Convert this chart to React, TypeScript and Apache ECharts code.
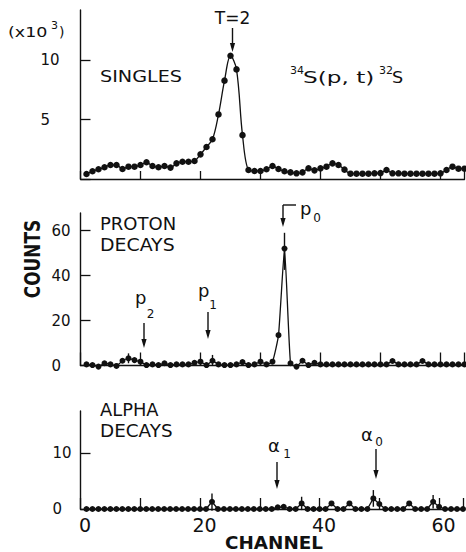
import React, { useEffect, useRef } from "react";
import * as echarts from "echarts";

// Channel numbers (x) shared by all three spectra
const channels: number[] = Array.from({ length: 64 }, (_, i) => i + 1);

// SINGLES counts (x10^3)
const singles: number[] = [
  0.42, 0.65, 0.82, 0.99, 1.18, 1.18, 0.84, 1.04, 1.04, 1.18,
  1.41, 1.10, 0.99, 1.10, 0.96, 1.32, 1.46, 1.46, 1.52, 2.08,
  2.70, 3.35, 5.45, 8.30, 10.40, 9.25, 3.70, 0.76, 0.68, 0.68,
  0.82, 1.10, 0.84, 0.65, 0.56, 0.48, 0.56, 0.90, 0.73, 0.90,
  1.04, 1.32, 1.18, 0.79, 0.45, 0.45, 0.45, 0.45, 0.48, 0.50,
  0.76, 0.48, 0.48, 0.45, 0.45, 0.45, 0.45, 0.45, 0.45, 0.48,
  0.76, 1.04, 0.87, 0.87,
];

// PROTON DECAYS counts
const proton: number[] = [
  0.5, 0.2, -0.5, 1.0, 0.5, -0.2, 2.1, 3.2, 2.4, 1.7,
  0.2, 0.5, 0.2, 1.0, 0.2, 0.5, 0.5, 0.5, 1.2, 1.7,
  0.2, 2.1, 0.5, 0.2, 0.2, 0.5, 1.5, 0.2, 0.5, 1.7,
  0.5, 1.7, 13.5, 52.0, 1.0, -0.5, 2.1, 0.2, 1.2, 0.5,
  0.5, 0.5, 0.5, 0.5, 0.5, 0.5, 0.5, 0.5, 0.5, 0.5,
  0.5, 2.0, 0.5, 0.5, 0.5, 0.5, 2.0, 0.5, 0.5, 0.5,
  0.5, 0.5, 0.5, 0.5,
];

// ALPHA DECAYS counts
const alpha: number[] = [
  0, 0, 0, 0, 0, 0, 0, 0, 0, 0,
  0, 0, 0, 0, 0, 0, 0, 0, 0, 0,
  0, 1.3, 0, 0, 0, 0, 0, 0, 0, 0,
  0, 0, 0.3, 0.4, 0, 0, 1.0, 0, 0, 0,
  0, 1.0, 0, 0, 1.0, 0, 0, 0, 1.9, 0.9,
  0, 0, 0, 0, 1.0, 0, 0, 0, 1.3, 0.4,
  0, 0, 0, 0,
];

// error bars: [channel, low, high]
const protonErrors: number[][] = [
  [8, 1.0, 5.4],
  [22, 0.0, 4.7],
  [34, 42.5, 59.0],
];
const alphaErrors: number[][] = [
  [22, -0.3, 2.8],
  [37, -0.2, 2.2],
  [49, 0.4, 3.4],
  [59, 0.1, 2.5],
];

// tick labels
const xTickLabels = [0, 20, 40, 60];
const singlesTicks = [5, 10];
const protonTicks = [0, 20, 40, 60];
const alphaTicks = [0, 10];

const INK = "#111";
const FONT = "DejaVu Sans";

function arrow(x: number, y1: number, y2: number) {
  return {
    type: "group",
    children: [
      { type: "line", shape: { x1: x, y1, x2: x, y2: y2 - 4 }, style: { stroke: INK, lineWidth: 1.4 } },
      {
        type: "polygon",
        shape: { points: [[x - 2.6, y2 - 9], [x + 2.6, y2 - 9], [x, y2]] },
        style: { fill: INK },
      },
    ],
  };
}

function txt(text: string, x: number, y: number, size: number, opts: any = {}) {
  return {
    type: "text",
    x,
    y,
    scaleX: opts.scaleX ?? 1,
    scaleY: opts.scaleY ?? 1,
    rotation: opts.rotation ?? 0,
    style: {
      text,
      x: 0,
      y: 0,
      fill: INK,
      font: `${opts.bold ? "bold " : ""}${size}px "${FONT}"`,
      textAlign: opts.align ?? "left",
      textVerticalAlign: "middle",
      verticalAlign: "middle",
    },
  };
}

function errSeries(xi: number, data: number[][]) {
  return {
    type: "custom",
    xAxisIndex: xi,
    yAxisIndex: xi,
    clip: false,
    silent: true,
    data,
    encode: { x: 0, y: [1, 2] },
    renderItem: (_p: any, api: any) => {
      const a = api.coord([api.value(0), api.value(1)]);
      const b = api.coord([api.value(0), api.value(2)]);
      return {
        type: "line",
        shape: { x1: a[0], y1: a[1], x2: b[0], y2: b[1] },
        style: { stroke: INK, lineWidth: 1.4 },
      };
    },
  };
}

export default function App() {
  const ref = useRef<HTMLDivElement>(null);

  useEffect(() => {
    document.body.style.margin = "0";
    const chart = echarts.init(ref.current!, null, { renderer: "svg" });

    const left = 80.5;
    const width = 384;
    const grids = [
      { left, top: 10, width, height: 169 },
      { left, top: 213, width, height: 152.5 },
      { left, top: 411, width, height: 98 },
    ];

    const xAxis = (gi: number, tickLen: number, showLabels: boolean) => ({
      type: "value",
      gridIndex: gi,
      min: 0,
      max: 64,
      interval: 10,
      axisLine: { show: true, onZero: false, lineStyle: { color: INK, width: 1.4 } },
      axisTick: { show: true, inside: true, length: tickLen, lineStyle: { color: INK, width: 1.3 } },
      axisLabel: {
        show: showLabels,
        color: INK,
        fontFamily: FONT,
        fontSize: 19,
        margin: 6,
        padding: [0, 0, 0, 9],
        formatter: (v: number) => (xTickLabels.includes(v) ? String(v) : ""),
      },
      splitLine: { show: false },
    });

    const yAxis = (gi: number, max: number, interval: number, labels: number[], margin: number, size: number) => ({
      type: "value",
      gridIndex: gi,
      min: 0,
      max,
      interval,
      axisLine: { show: true, lineStyle: { color: INK, width: 1.4 } },
      axisTick: { show: true, inside: true, length: 10, lineStyle: { color: INK, width: 1.3 } },
      axisLabel: {
        color: INK,
        fontFamily: FONT,
        fontSize: size,
        margin,
        align: "left",
        showMaxLabel: false,
        formatter: (v: number) => (labels.includes(v) ? String(v) : ""),
      },
      splitLine: { show: false },
    });

    const lineSeries = (gi: number, vals: number[], smooth: number | boolean, size: number) => ({
      type: "line",
      xAxisIndex: gi,
      yAxisIndex: gi,
      data: channels.map((c, i) => [c, vals[i]]),
      smooth,
      clip: false,
      symbol: "circle",
      symbolSize: size,
      showSymbol: true,
      itemStyle: { color: INK },
      lineStyle: { color: INK, width: 1.3 },
    });

    chart.setOption({
      animation: false,
      backgroundColor: "#fff",
      grid: grids,
      xAxis: [xAxis(0, 8, false), xAxis(1, 13, false), xAxis(2, 11, true)],
      yAxis: [
        yAxis(0, 14.26, 5, singlesTicks, 40, 15),
        yAxis(1, 67.8, 20, protonTicks, 29, 15),
        yAxis(2, 17.6, 10, alphaTicks, 28, 15),
      ],
      series: [
        lineSeries(0, singles, 0.35, 6.5),
        lineSeries(1, proton, 0.15, 6),
        lineSeries(2, alpha, false, 6),
        errSeries(1, protonErrors),
        errSeries(2, alphaErrors),
      ],
      graphic: [
        // panel 1
        txt("(x10", 8, 32, 14, { scaleX: 1.25 }),
        txt("3", 51, 25, 11),
        txt(")", 59, 32, 14),
        txt("T=2", 232.5, 18, 17, { align: "center" }),
        arrow(232.5, 28, 52),
        txt("SINGLES", 100, 76.5, 16, { scaleX: 1.2 }),
        txt("34", 290, 70.5, 11),
        txt("S(p, t)", 303, 77.5, 16, { scaleX: 1.45 }),
        txt("32", 379, 70.5, 11),
        txt("S", 392, 77.5, 16, { scaleX: 1.1 }),
        // panel 2
        txt("COUNTS", 33, 259, 22, { bold: true, rotation: Math.PI / 2, align: "center", scaleX: 0.77 }),
        txt("PROTON", 100, 223, 18),
        txt("DECAYS", 100, 244.5, 18, { scaleX: 1.05 }),
        { type: "line", shape: { x1: 283, y1: 205, x2: 296, y2: 205 }, style: { stroke: INK, lineWidth: 1.4 } },
        arrow(283, 205, 227),
        txt("p", 300, 208, 18),
        txt("0", 317, 218, 12, { align: "center" }),
        txt("p", 135, 297, 18),
        txt("2", 150.5, 314, 12, { align: "center" }),
        arrow(144, 323, 348),
        txt("p", 198, 290, 18),
        txt("1", 213, 305, 12, { align: "center" }),
        arrow(208, 312, 339),
        // panel 3
        txt("ALPHA", 100, 410.5, 17, { scaleX: 1.05 }),
        txt("DECAYS", 100, 431.5, 17, { scaleX: 1.08 }),
        txt("α", 268, 445, 18),
        txt("1", 287, 454, 12, { align: "center" }),
        arrow(277, 462, 489),
        txt("α", 361, 434, 18),
        txt("0", 379, 442, 12, { align: "center" }),
        arrow(376, 449, 479),
        txt("CHANNEL", 274, 543, 18, { bold: true, align: "center", scaleX: 1.02 }),
      ],
    });

    return () => chart.dispose();
  }, []);

  return (
    <div
      ref={ref}
      style={{ position: "absolute", left: 0, top: 0, width: 466, height: 552, background: "#fff" }}
    />
  );
}
